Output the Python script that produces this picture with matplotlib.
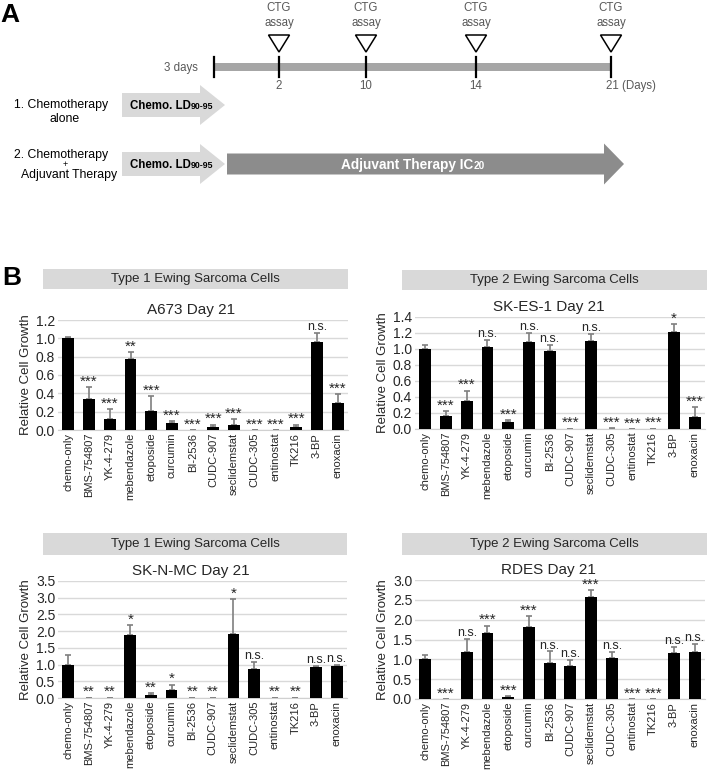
import numpy as np
import matplotlib
matplotlib.use('Agg')
import matplotlib.pyplot as plt
import matplotlib.ticker as tck
from matplotlib.patches import Polygon, Rectangle

W, H = 707, 778

# ---- data ----
drugs = ['chemo-only', 'BMS-754807', 'YK-4-279', 'mebendazole', 'etoposide', 'curcumin',
         'BI-2536', 'CUDC-907', 'seclidemstat', 'CUDC-305', 'entinostat', 'TK216',
         '3-BP', 'enoxacin']

a673_val = [1.0, 0.34, 0.12, 0.78, 0.21, 0.08, 0.0, 0.03, 0.05, 0.0, 0.0, 0.03, 0.96, 0.30]
a673_err = [0.02, 0.13, 0.11, 0.07, 0.16, 0.02, 0.0, 0.03, 0.07, 0.0, 0.0, 0.03, 0.10, 0.09]
a673_sig = ['', '***', '***', '**', '***', '***', '***', '***', '***', '***', '***', '***', 'n.s.', '***']

skes_val = [1.0, 0.16, 0.35, 1.03, 0.09, 1.09, 0.97, 0.005, 1.10, 0.005, 0.003, 0.005, 1.21, 0.15]
skes_err = [0.05, 0.06, 0.13, 0.08, 0.02, 0.11, 0.08, 0.0, 0.09, 0.01, 0.0, 0.0, 0.10, 0.12]
skes_sig = ['', '***', '***', 'n.s.', '***', 'n.s.', 'n.s.', '***', 'n.s.', '***', '***', '***', '*', '***']

sknmc_val = [1.0, 0.01, 0.01, 1.89, 0.08, 0.25, 0.01, 0.01, 1.91, 0.86, 0.01, 0.01, 0.92, 0.97]
sknmc_err = [0.28, 0.0, 0.0, 0.30, 0.06, 0.15, 0.0, 0.0, 1.05, 0.23, 0.0, 0.0, 0.05, 0.02]
sknmc_sig = ['', '**', '**', '*', '**', '*', '**', '**', '*', 'n.s.', '**', '**', 'n.s.', 'n.s.']

rdes_val = [1.0, 0.005, 1.19, 1.66, 0.04, 1.81, 0.92, 0.82, 2.56, 1.04, 0.0, 0.0, 1.15, 1.19]
rdes_err = [0.10, 0.0, 0.32, 0.19, 0.03, 0.28, 0.28, 0.17, 0.19, 0.15, 0.0, 0.0, 0.17, 0.20]
rdes_sig = ['', '***', 'n.s.', '***', '***', '***', 'n.s.', 'n.s.', '***', 'n.s.', '***', '***', 'n.s.', 'n.s.']

assay_days = [2, 10, 14, 21]

plt.rcParams['font.family'] = ['Liberation Sans', 'DejaVu Sans']

fig = plt.figure(figsize=(W / 100, H / 100), dpi=100)

# overlay axes in pixel coordinates (for panel A and decorations)
ov = fig.add_axes([0, 0, 1, 1])
ov.set_xlim(0, W)
ov.set_ylim(H, 0)
ov.axis('off')

def px(x0, y0, x1, y1):
    return [x0 / W, 1 - y1 / H, (x1 - x0) / W, (y1 - y0) / H]

# ---- panel A ----
ov.text(0, 15, 'A', fontsize=19, fontweight='bold', va='center', ha='left')

gray_txt = '#595959'
tick_x = {2: 279, 10: 366, 14: 476, 21: 611}
ov.add_patch(Rectangle((214, 63), 611 - 214, 8, color='#a6a6a6', lw=0))
ov.plot([214, 214], [57, 77], color='black', lw=1.6)
for d in assay_days:
    x = tick_x[d]
    ov.plot([x, x], [57, 77], color='black', lw=1.6)
    ov.add_patch(Polygon([[x - 10.5, 35], [x + 10.5, 35], [x, 52]], closed=True,
                         facecolor='white', edgecolor='black', lw=1.1))
    ov.text(x, 8, 'CTG', ha='center', va='center', color=gray_txt, fontsize=8.3)
    ov.text(x, 23, 'assay', ha='center', va='center', color=gray_txt, fontsize=8.3)
    if d == 21:
        ov.text(x - 5, 86, '21 (Days)', ha='left', va='center', color=gray_txt, fontsize=8.3)
    else:
        ov.text(x, 86, str(d), ha='center', va='center', color=gray_txt, fontsize=8.3)
ov.text(198, 68, '3 days', ha='right', va='center', color=gray_txt, fontsize=8.3)

def arrow(x0, xh, xt, yc, body, head, color):
    pts = [[x0, yc - body], [xh, yc - body], [xh, yc - head], [xt, yc],
           [xh, yc + head], [xh, yc + body], [x0, yc + body]]
    ov.add_patch(Polygon(pts, closed=True, facecolor=color, edgecolor='none'))

for yc in [105, 164]:
    arrow(122, 200, 225, yc, 12, 20, '#d9d9d9')
    t1 = ov.text(130, yc + 1, 'Chemo. LD', ha='left', va='center', fontsize=8.3, fontweight='bold')
    ov.annotate('90-95', xy=(1, 0.1), xycoords=t1, va='bottom', ha='left',
                fontsize=6.3, fontweight='bold')

arrow(227, 604, 624, 164, 10.5, 20.5, '#8c8c8c')
t2 = ov.text(341, 165, 'Adjuvant Therapy IC', ha='left', va='center', color='white',
             fontsize=9.8, fontweight='bold')
ov.annotate('20', xy=(1, 0.1), xycoords=t2, va='bottom', ha='left', color='white',
            fontsize=7.3, fontweight='bold')

ov.text(61, 105, '1. Chemotherapy', ha='center', va='center', fontsize=8.8)
ov.text(65, 118.5, 'alone', ha='center', va='center', fontsize=8.8)
ov.text(61, 154.5, '2. Chemotherapy', ha='center', va='center', fontsize=8.8)
ov.text(65, 164, '+', ha='center', va='center', fontsize=6.5)
ov.text(69, 174.5, 'Adjuvant Therapy', ha='center', va='center', fontsize=8.8)

# ---- panel B ----
ov.text(2, 278, 'B', fontsize=19, fontweight='bold', va='center', ha='left')

headers = [(43, 269, 348, 289, 'Type 1 Ewing Sarcoma Cells'),
           (402, 270, 707, 290, 'Type 2 Ewing Sarcoma Cells'),
           (43, 533, 347, 555, 'Type 1 Ewing Sarcoma Cells'),
           (402, 533, 707, 555, 'Type 2 Ewing Sarcoma Cells')]
for x0, y0, x1, y1, txt in headers:
    ov.add_patch(Rectangle((x0, y0), x1 - x0, y1 - y0, facecolor='#d9d9d9', edgecolor='none'))
    ov.text((x0 + x1) / 2, (y0 + y1) / 2, txt, ha='center', va='center', fontsize=9.5, color='#262626')

panels = [
    (px(58, 320, 348, 430), 'A673 Day 21', a673_val, a673_err, a673_sig, 1.2, 0.2),
    (px(415, 317, 705, 429), 'SK-ES-1 Day 21', skes_val, skes_err, skes_sig, 1.4, 0.2),
    (px(58, 581, 347, 698), 'SK-N-MC Day 21', sknmc_val, sknmc_err, sknmc_sig, 3.5, 0.5),
    (px(415, 580, 705, 699), 'RDES Day 21', rdes_val, rdes_err, rdes_sig, 3.0, 0.5),
]

x = np.arange(len(drugs))
for rect, title, vals, errs, sigs, ymax, step in panels:
    ax = fig.add_axes(rect)
    ax.bar(x, vals, width=0.57, color='black', zorder=3)
    ax.errorbar(x, vals, yerr=[np.zeros(len(errs)), errs], fmt='none', ecolor='#7f7f7f',
                elinewidth=1.2, capsize=2.2, capthick=1.2, zorder=2)
    ax.set_xlim(-0.5, len(drugs) - 0.5)
    ax.set_ylim(0, ymax)
    ax.set_yticks(np.arange(0, ymax + step / 2, step))
    ax.yaxis.set_major_formatter(tck.FormatStrFormatter('%.1f'))
    ax.set_xticks(x)
    ax.set_xticklabels(drugs, rotation=90, fontsize=8, color='#262626')
    ax.tick_params(axis='y', labelsize=10, labelcolor='#262626', length=0, pad=2)
    ax.tick_params(axis='x', length=0, pad=2)
    ax.grid(axis='y', color='#d9d9d9', lw=1, zorder=0)
    ax.set_axisbelow(True)
    for s in ['top', 'right', 'left']:
        ax.spines[s].set_visible(False)
    ax.spines['bottom'].set_color('#d0d0d0')
    ax.set_ylabel('Relative Cell Growth', fontsize=9.5, color='#262626', labelpad=3)
    ax.set_title(title, fontsize=11, color='#262626', pad=4, x=0.46)
    for xi, v, e, s in zip(x, vals, errs, sigs):
        if not s:
            continue
        if s == 'n.s.':
            ax.annotate(s, xy=(xi, v + e), xytext=(0, 2), textcoords='offset points',
                        ha='center', va='baseline', fontsize=9, color='#262626',
                        annotation_clip=False)
        else:
            ax.annotate(s, xy=(xi, v + e), xytext=(0, 1), textcoords='offset points',
                        ha='center', va='baseline', fontsize=11, color='#262626',
                        annotation_clip=False)

fig.savefig('out.png', dpi=100)
